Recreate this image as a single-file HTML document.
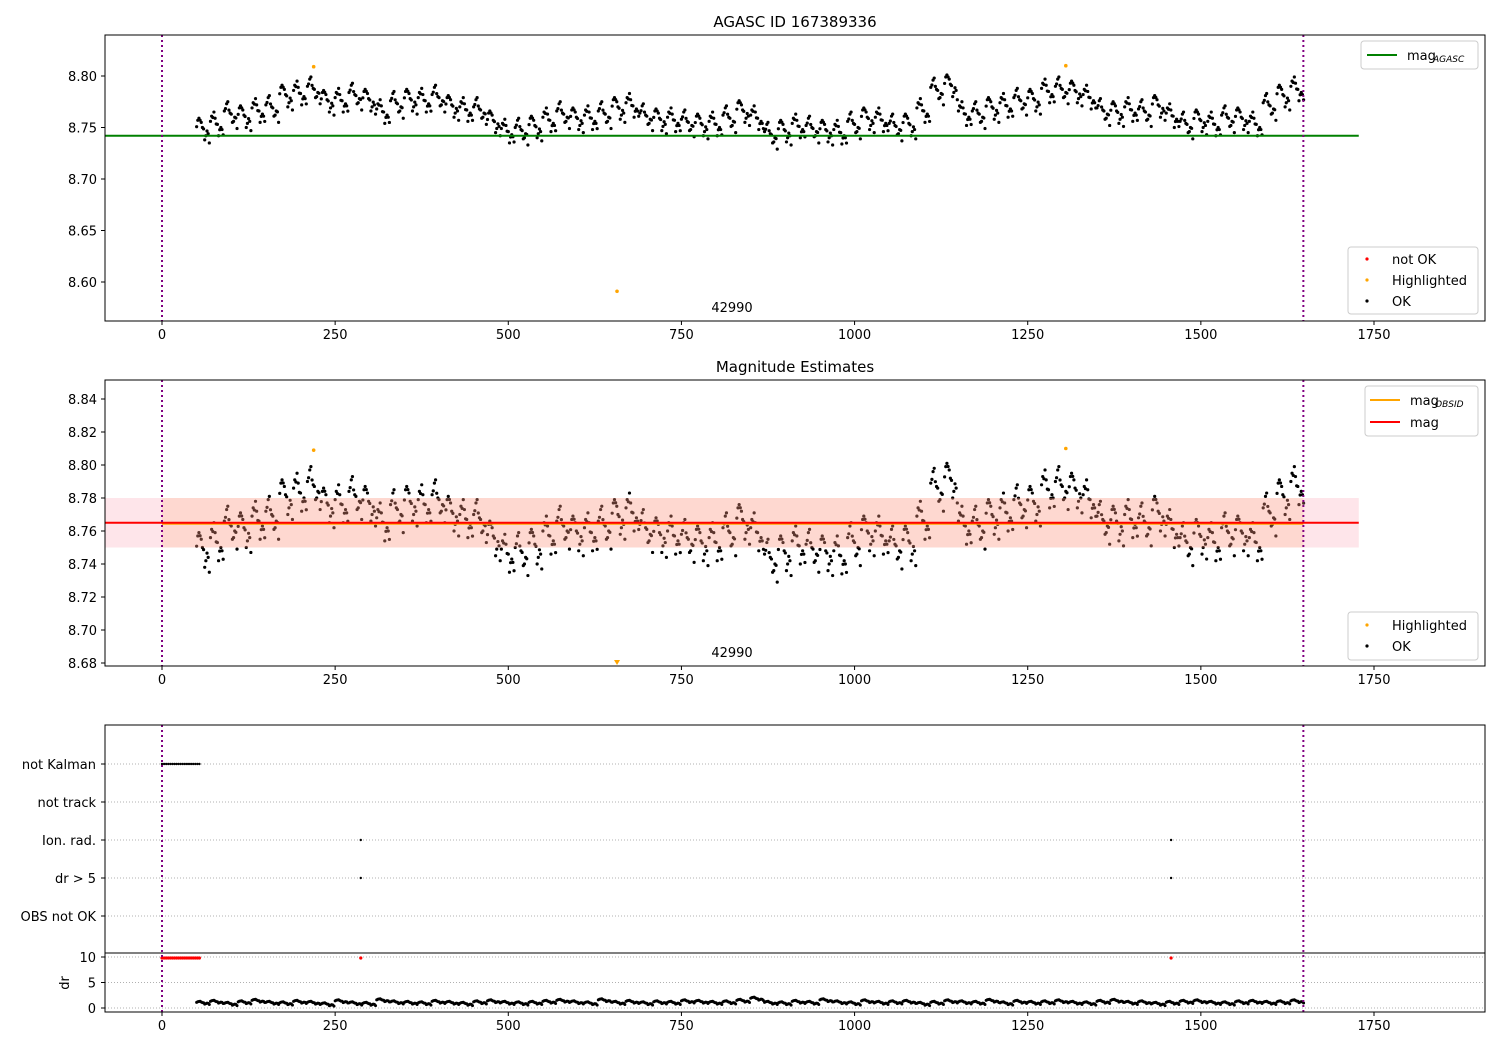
<!DOCTYPE html>
<html><head><meta charset="utf-8">
<style>
body{margin:0;background:#fff;font-family:"Liberation Sans","DejaVu Sans",sans-serif;}
svg text{font-family:"DejaVu Sans","Liberation Sans",sans-serif;font-size:13px;fill:#000;}
</style></head>
<body>
<svg id="c" width="1500" height="1050" xmlns="http://www.w3.org/2000/svg"></svg>
<script>
// ---- data ----
const binStart = 60, binStep = 20;
const magMeans = [8.748,8.752,8.762,8.760,8.765,8.768,8.780,8.782,8.786,8.775,8.775,8.780,8.776,8.764,8.772,8.776,8.775,8.778,8.770,8.766,8.766,8.755,8.745,8.746,8.750,8.756,8.762,8.758,8.758,8.762,8.768,8.770,8.760,8.757,8.756,8.754,8.752,8.752,8.758,8.765,8.758,8.742,8.746,8.750,8.748,8.746,8.744,8.752,8.758,8.756,8.750,8.752,8.765,8.785,8.790,8.762,8.762,8.768,8.770,8.775,8.776,8.784,8.786,8.784,8.778,8.765,8.764,8.766,8.764,8.770,8.760,8.752,8.756,8.752,8.758,8.758,8.752,8.770,8.780,8.786];
const scatterPattern = [0.004,-0.010,0.011,-0.002,0.007,-0.013,0.001,0.009,-0.006,0.013,-0.004,0.002];
const drMeans = [1.0,1.2,0.8,1.1,1.4,1.0,0.9,1.2,1.0,0.7,1.3,0.9,0.8,1.5,1.1,1.0,0.9,1.2,1.0,0.8,1.1,1.3,1.0,0.9,1.0,1.2,1.4,1.1,0.9,1.5,1.0,1.2,0.9,1.1,1.0,1.3,1.2,1.0,1.1,1.4,1.8,1.0,0.9,1.2,1.0,1.5,1.1,0.9,1.3,1.0,1.1,1.2,0.8,1.0,1.3,1.1,1.0,1.4,0.9,1.2,1.0,1.1,1.3,1.0,0.9,1.2,1.4,1.0,1.1,0.8,1.0,1.2,1.3,1.0,0.9,1.1,1.2,1.0,1.1,1.3];
const highlighted = [[219,8.809],[657,8.591],[1305,8.810]];
const notKalmanT = [0,3,6,9,12,15,18,21,24,27,30,33,36,39,42,45,48,51,54];
const flagT = [287,1457];
const agascMag = 8.742, obsMag = 8.765, bandLo = 8.750, bandHi = 8.780;
const xTicks = [0,250,500,750,1000,1250,1500,1750];
const y1Ticks = [8.60,8.65,8.70,8.75,8.80];
const y2Ticks = [8.68,8.70,8.72,8.74,8.76,8.78,8.80,8.82,8.84];
const flagLabels = ["not Kalman","not track","Ion. rad.","dr > 5","OBS not OK"];
const drTicks = [0,5,10];

// ---- scales ----
const X = t => 162 + t*(1212/1750);
const Y1 = v => 282 - (v-8.60)*1030;
const Y2 = v => 531 - (v-8.76)*1650;
const FY = i => 764 + i*38;
const YD = d => 1008 - d*5.1;
const svg = document.getElementById('c');
const NS = 'http://www.w3.org/2000/svg';
function el(tag, attrs, parent){const e=document.createElementNS(NS,tag);for(const k in attrs)e.setAttribute(k,attrs[k]);(parent||svg).appendChild(e);return e;}
function txt(x,y,s,anchor,parent){const t=el('text',{x:x,y:y,'text-anchor':anchor||'middle'},parent);t.textContent=s;return t;}

function xAxis(bottom, g){
  xTicks.forEach(t=>{
    el('line',{x1:X(t),x2:X(t),y1:bottom,y2:bottom+4,stroke:'#000'},g);
    const l=txt(X(t),bottom+18,String(t),'middle',g);
    
    
  });
}
function pointX(i,j){return X(binStart+i*binStep-10+((j*7)%scatterPattern.length)*(binStep/scatterPattern.length));}

// ===== Panel 1 =====
const g1=el('g',{});


const t1=txt(795,27,'AGASC ID 167389336','middle',g1);t1.style.fontSize='15px';

y1Ticks.forEach(v=>{el('line',{x1:101,x2:105,y1:Y1(v),y2:Y1(v),stroke:'#000'},g1);txt(97,Y1(v)+5,v.toFixed(2),'end',g1);});
xAxis(321,g1);
magMeans.forEach((m,i)=>{
  scatterPattern.forEach((o,j)=>{
    const c=el('circle',{cx:pointX(i,j),cy:Y1(m+o*((i+j)%3===0?0.7:1)),r:1.6,fill:'#000'},g1);
    
  });
});
const ag=el('line',{x1:105,x2:X(1728),y1:Y1(agascMag),y2:Y1(agascMag),stroke:'#008000','stroke-width':2},g1);

[0,1648].forEach(t=>el('line',{x1:X(t),x2:X(t),y1:35,y2:321,stroke:'#800080','stroke-width':2,'stroke-dasharray':'2,3'},g1));
highlighted.forEach(h=>{const c=el('circle',{cx:X(h[0]),cy:Y1(h[1]),r:1.8,fill:'orange'},g1);});
txt(732,312,'42990','middle',g1);
el('rect',{x:105,y:35,width:1380,height:286,fill:'none',stroke:'#000'},g1);
const lg1=el('g',{});
el('rect',{x:1361,y:41,width:117,height:28,fill:'#fff',stroke:'#ccc',rx:3},lg1);
el('line',{x1:1367,x2:1397,y1:55,y2:55,stroke:'#008000','stroke-width':2},lg1);
txt(1407,60,'mag','start',lg1);const s1=txt(1433,62,'AGASC','start',lg1);s1.style.fontSize='9px';s1.style.fontStyle='italic';
const lg2=el('g',{});
el('rect',{x:1348,y:247,width:130,height:67,fill:'#fff',stroke:'#ccc',rx:3},lg2);
[['red','not OK',259],['orange','Highlighted',280],['#000','OK',301]].forEach(e=>{el('circle',{cx:1367,cy:e[2],r:1.6,fill:e[0]},lg2);txt(1392,e[2]+5,e[1],'start',lg2);});

// ===== Panel 2 =====
const g2=el('g',{});


const t2=txt(795,372,'Magnitude Estimates','middle',g2);t2.style.fontSize='15px';
y2Ticks.forEach(v=>{el('line',{x1:101,x2:105,y1:Y2(v),y2:Y2(v),stroke:'#000'},g2);txt(97,Y2(v)+5,v.toFixed(2),'end',g2);});
xAxis(666,g2);
magMeans.forEach((m,i)=>{
  scatterPattern.forEach((o,j)=>{
    const c=el('circle',{cx:pointX(i,j),cy:Y2(m+o*((i+j)%3===0?0.7:1)),r:1.6,fill:'#000'},g2);
    
  });
});
const pb=el('rect',{x:105,y:Y2(bandHi),width:X(1728)-105,height:Y2(bandLo)-Y2(bandHi),fill:'rgba(250,150,170,0.25)'},g2);

const ob=el('rect',{x:X(0),y:Y2(bandHi),width:X(1648)-X(0),height:Y2(bandLo)-Y2(bandHi),fill:'rgba(255,140,60,0.15)'},g2);

el('line',{x1:X(0),x2:X(1648),y1:Y2(obsMag)+1,y2:Y2(obsMag)+1,stroke:'orange','stroke-width':2},g2);
const ml=el('line',{x1:105,x2:X(1728),y1:Y2(obsMag),y2:Y2(obsMag),stroke:'red','stroke-width':2},g2);

[0,1648].forEach(t=>el('line',{x1:X(t),x2:X(t),y1:380,y2:666,stroke:'#800080','stroke-width':2,'stroke-dasharray':'2,3'},g2));
highlighted.forEach(h=>{
  if(Y2(h[1])>666){const x=X(h[0]);el('path',{d:`M${x-3},660 L${x+3},660 L${x},665 Z`,fill:'orange'},g2);}
  else el('circle',{cx:X(h[0]),cy:Y2(h[1]),r:1.8,fill:'orange'},g2);
});
txt(732,657,'42990','middle',g2);
el('rect',{x:105,y:380,width:1380,height:286,fill:'none',stroke:'#000'},g2);
const lg3=el('g',{});
el('rect',{x:1365,y:386,width:113,height:50,fill:'#fff',stroke:'#ccc',rx:3},lg3);
el('line',{x1:1370,x2:1400,y1:400,y2:400,stroke:'orange','stroke-width':2},lg3);
txt(1410,405,'mag','start',lg3);const s2=txt(1435,407,'OBSID','start',lg3);s2.style.fontSize='9px';s2.style.fontStyle='italic';
el('line',{x1:1370,x2:1400,y1:422,y2:422,stroke:'red','stroke-width':2},lg3);
txt(1410,427,'mag','start',lg3);
const lg4=el('g',{});
el('rect',{x:1348,y:612,width:130,height:48,fill:'#fff',stroke:'#ccc',rx:3},lg4);
[['orange','Highlighted',625],['#000','OK',646]].forEach(e=>{el('circle',{cx:1367,cy:e[2],r:1.6,fill:e[0]},lg4);txt(1392,e[2]+5,e[1],'start',lg4);});

// ===== Panel 3 =====
const g3=el('g',{});


flagLabels.forEach((s,i)=>{
  el('line',{x1:105,x2:1485,y1:FY(i),y2:FY(i),stroke:'#b0b0b0','stroke-dasharray':'1,2'},g3);
  el('line',{x1:101,x2:105,y1:FY(i),y2:FY(i),stroke:'#000'},g3);
  const l=txt(96,FY(i)+5,s,'end',g3);
});
drTicks.forEach(d=>{
  el('line',{x1:105,x2:1485,y1:YD(d),y2:YD(d),stroke:'#b0b0b0','stroke-dasharray':'1,2'},g3);
  el('line',{x1:101,x2:105,y1:YD(d),y2:YD(d),stroke:'#000'},g3);
  txt(96,YD(d)+5,String(d),'end',g3);
});
const dl=txt(0,0,'dr','middle',g3);dl.setAttribute('transform','translate(69,983) rotate(-90)');
notKalmanT.forEach(t=>{
  el('circle',{cx:X(t),cy:FY(0),r:1.2,fill:'#000'},g3);
  el('circle',{cx:X(t),cy:YD(9.8),r:1.6,fill:'red'},g3);
});
flagT.forEach(t=>{
  el('circle',{cx:X(t),cy:FY(2),r:1.2,fill:'#000'},g3);
  el('circle',{cx:X(t),cy:FY(3),r:1.2,fill:'#000'},g3);
  el('circle',{cx:X(t),cy:YD(9.8),r:1.6,fill:'red'},g3);
});
drMeans.forEach((d,i)=>{
  scatterPattern.forEach((o,j)=>{
    const c=el('circle',{cx:pointX(i,j),cy:YD(d+o*25),r:1.5,fill:'#000'},g3);
    
  });
});
[0,1648].forEach(t=>el('line',{x1:X(t),x2:X(t),y1:725,y2:1012,stroke:'#800080','stroke-width':2,'stroke-dasharray':'2,3'},g3));
el('line',{x1:105,x2:1485,y1:953,y2:953,stroke:'#000'},g3);
xAxis(1012,g3);
el('rect',{x:105,y:725,width:1380,height:287,fill:'none',stroke:'#000'},g3);
</script>
</body></html>
